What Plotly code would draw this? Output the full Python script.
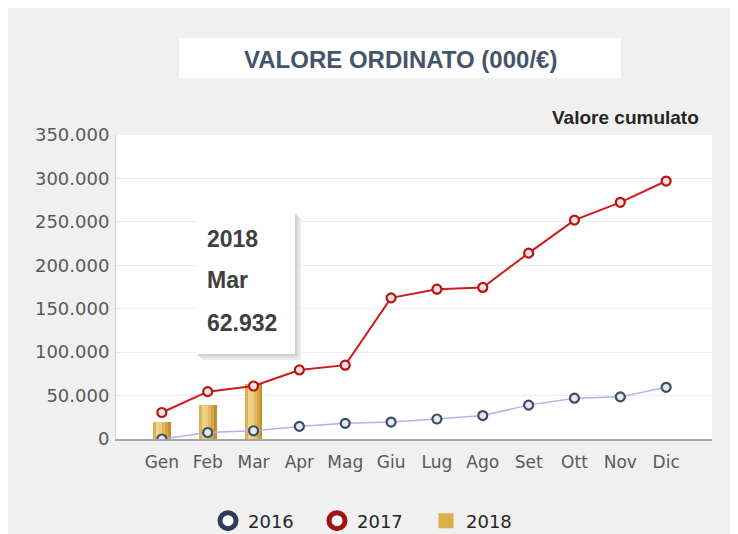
import plotly.graph_objects as go

months = ["Gen", "Feb", "Mar", "Apr", "Mag", "Giu", "Lug", "Ago", "Set", "Ott", "Nov", "Dic"]
v2016 = [0, 7500, 9500, 14500, 18000, 19500, 23000, 27000, 39000, 47000, 48500, 59500]
v2017 = [30500, 54500, 61000, 79500, 85000, 162500, 172500, 174500, 214000, 252000, 272500, 297000]
v2018 = [20000, 39000, 62932]
series_names = ["2016", "2017", "2018"]
ytick_vals = [0, 50000, 100000, 150000, 200000, 250000, 300000, 350000]

W, H = 738, 534
OFF = 8  # page body margin in the screenshot
L, R, T, B = 108, 34, 127, 103
PW, PH = W - L - R, H - T - B


def px(x):
    """screenshot x -> paper x"""
    return (x - OFF - L) / PW


def py(y):
    """screenshot y -> paper y"""
    return (H - B - (y - OFF)) / PH


fig = go.Figure()

# 2018 bars with a simulated gradient (overlayed slices)
bar_w = 0.39
grad = ["#dcb255", "#f1d48c", "#edcd7e", "#e2b962", "#d4a445", "#c38f2c"]
n = len(grad)
for i, c in enumerate(grad):
    fig.add_trace(go.Bar(
        x=months[:len(v2018)], y=v2018, width=bar_w / n,
        offset=-bar_w / 2 + i * bar_w / n,
        marker=dict(color=c, line=dict(width=0)),
        showlegend=False, hoverinfo="skip"))

fig.add_trace(go.Scatter(
    x=months, y=v2016, mode="lines+markers", showlegend=False,
    line=dict(color="#b9aee6", width=1.5),
    marker=dict(symbol="circle", size=9, color="#e4e8ef",
                line=dict(color="#3d4c68", width=2.2))))
fig.add_trace(go.Scatter(
    x=months, y=v2017, mode="lines+markers", showlegend=False,
    line=dict(color="#d21a1a", width=2),
    marker=dict(symbol="circle", size=9, color="#f6e2e2",
                line=dict(color="#b81414", width=2.2))))

# legend-only entries
fig.add_trace(go.Scatter(x=[None], y=[None], mode="markers", name=series_names[0],
                         marker=dict(symbol="circle", size=16, color="#ffffff",
                                     line=dict(color="#2f3d58", width=5))))
fig.add_trace(go.Scatter(x=[None], y=[None], mode="markers", name=series_names[1],
                         marker=dict(symbol="circle", size=16, color="#ffffff",
                                     line=dict(color="#a51010", width=5))))
fig.add_trace(go.Scatter(x=[None], y=[None], mode="markers", name=series_names[2],
                         marker=dict(symbol="square", size=15, color="#dcae4e",
                                     line=dict(width=0))))

shapes = [
    # title box
    dict(type="rect", xref="paper", yref="paper", x0=px(179), x1=px(621), y0=py(38), y1=py(78),
         fillcolor="white", line=dict(width=0), layer="below"),
]
# tooltip box shadow + box
for off, col in [(6, "#ececec"), (4, "#e0e0e0"), (2, "#d2d2d2")]:
    shapes.append(dict(type="rect", xref="paper", yref="paper",
                       x0=px(196 + off), x1=px(295 + off), y0=py(212 + off), y1=py(354 + off),
                       fillcolor=col, line=dict(width=0), layer="above"))
shapes.append(dict(type="rect", xref="paper", yref="paper",
                   x0=px(196), x1=px(295), y0=py(212), y1=py(354),
                   fillcolor="white", line=dict(width=0), layer="above"))

tip_val = f"{v2018[2]:,}".replace(",", ".")
annotations = [
    dict(text="<b>VALORE ORDINATO (000/€)</b>", xref="paper", yref="paper", x=px(400), y=py(59),
         xanchor="center", yanchor="middle", showarrow=False,
         font=dict(family="Liberation Sans", size=24, color="#44546a")),
    dict(text="<b>Valore cumulato</b>", xref="paper", yref="paper", x=px(701), y=py(118),
         xanchor="right", yanchor="middle", showarrow=False,
         font=dict(family="Liberation Sans", size=19, color="#262626")),
]
for txt, yy in [(series_names[2], 239), (months[2], 280), (tip_val, 323)]:
    annotations.append(dict(text=f"<b>{txt}</b>", xref="paper", yref="paper", x=px(205), y=py(yy),
                            xanchor="left", yanchor="middle", showarrow=False,
                            font=dict(family="Liberation Sans", size=23, color="#404040")))

fig.update_layout(
    width=W, height=H, autosize=False,
    margin=dict(l=L, r=R, t=T, b=B, pad=0),
    paper_bgcolor="#f0f0f0", plot_bgcolor="white",
    separators=",.",
    barmode="overlay", bargap=0,
    font=dict(family="DejaVu Sans", size=17, color="#595959"),
    xaxis=dict(type="category", categoryorder="array", categoryarray=months,
               range=[-1, 12], showgrid=False, showline=True, linecolor="#a6a6a6",
               linewidth=1.5, ticks="", zeroline=False, automargin=False,
               tickfont=dict(family="DejaVu Sans", size=17, color="#595959"),
               ticklabelstandoff=7),
    yaxis=dict(range=[0, 350000], tickvals=ytick_vals, tickformat=",d",
               showgrid=True, gridcolor="#ececec", gridwidth=1,
               showline=True, linecolor="#d0d0d0", linewidth=1, zeroline=False,
               ticks="", automargin=False,
               tickfont=dict(family="DejaVu Sans", size=18, color="#595959"),
               ticklabelstandoff=2),
    legend=dict(orientation="h", xref="container", yref="container",
                x=(208 - OFF) / W, xanchor="left",
                y=1 - (521 - OFF) / H, yanchor="middle",
                font=dict(family="DejaVu Sans", size=18, color="#262626"),
                bgcolor="rgba(0,0,0,0)", entrywidth=64, entrywidthmode="pixels",
                itemsizing="trace", traceorder="normal"),
    shapes=shapes, annotations=annotations,
    showlegend=True,
)

fig.write_html("out.html")
